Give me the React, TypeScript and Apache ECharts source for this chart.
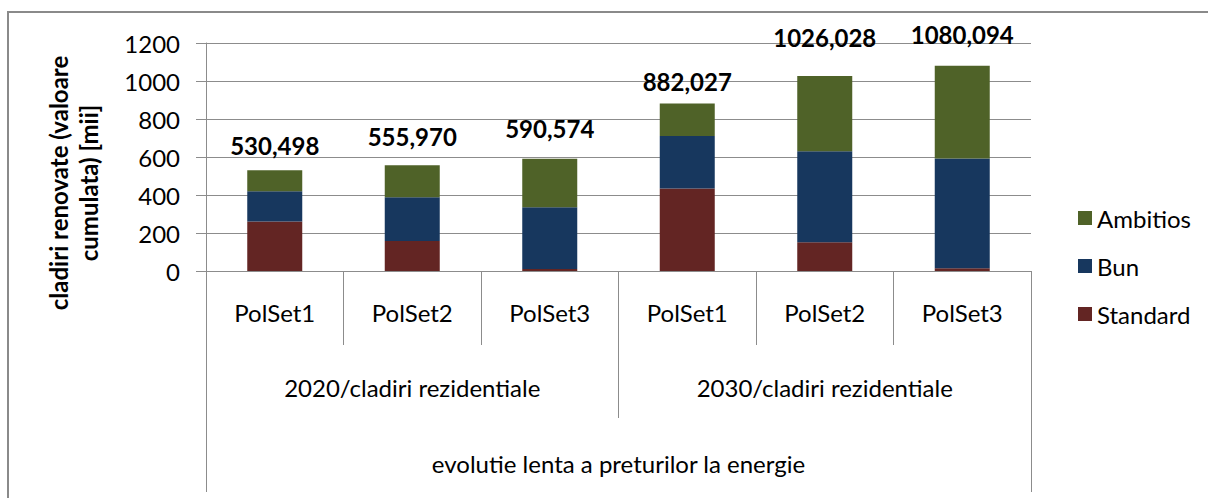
import React, { useEffect, useRef } from "react";
import * as echarts from "echarts";

const categories = ["PolSet1", "PolSet2", "PolSet3", "PolSet1", "PolSet2", "PolSet3"];
const groups = ["2020/cladiri rezidentiale", "2030/cladiri rezidentiale"];
const topGroup = ["evolutie lenta a preturilor la energie"];
const seriesNames = ["Standard", "Bun", "Ambitios"];
const standard = [260, 158, 10, 434, 151, 14];
const bun = [160, 230, 325, 277, 479, 578];
const ambitios = [110.498, 167.97, 255.574, 171.027, 396.028, 488.094];
const totals = [530.498, 555.97, 590.574, 882.027, 1026.028, 1080.094];
const yTicks = [0, 200, 400, 600, 800, 1000, 1200];
const yTitle = "cladiri renovate (valoare\ncumulata) [mii]";

const colors = ["#632523", "#17375E", "#4F6228"];
const labelDistances = [13, 17, 18, 10, 27, 19];
const FONT = "Lato";
const GRID = "#8c8c8c";

export default function App() {
  const ref = useRef<HTMLDivElement>(null);
  useEffect(() => {
    if (!ref.current) return;
    const chart = echarts.init(ref.current, null, { renderer: "svg" });
    const fmt = (v: number) => v.toFixed(3).replace(".", ",");
    const values = [standard, bun, ambitios];
    const series = seriesNames.map((name, si) => ({
      name,
      type: "bar",
      stack: "total",
      barWidth: 55,
      itemStyle: { color: colors[si] },
      data: values[si].map((v, i) =>
        si === 2
          ? {
              value: v,
              label: {
                show: true,
                position: "top",
                distance: labelDistances[i],
                formatter: () => fmt(totals[i]),
                fontFamily: FONT,
                fontSize: 24,
                fontWeight: "bold",
                color: "#000",
              },
            }
          : v
      ),
    }));
    const baseX = {
      type: "category",
      position: "bottom",
      gridIndex: 0,
      boundaryGap: true,
      axisLine: { show: true, lineStyle: { color: GRID, width: 1 } },
      splitLine: { show: false },
    };
    chart.setOption({
      animation: false,
      backgroundColor: "#fff",
      grid: { left: 206, right: 177, top: 43, bottom: 227, containLabel: false },
      legend: {
        orient: "vertical",
        left: 1073,
        top: 201,
        itemWidth: 14,
        itemHeight: 14,
        itemGap: 24,
        icon: "rect",
        data: ["Ambitios", "Bun", "Standard"],
        textStyle: { fontFamily: FONT, fontSize: 24, color: "#000", lineHeight: 24 },
      },
      xAxis: [
        {
          ...baseX,
          data: categories,
          axisTick: { show: true, length: 74, lineStyle: { color: GRID } },
          axisLabel: {
            interval: 0,
            margin: 41,
            verticalAlign: "middle",
            fontFamily: FONT,
            fontSize: 24,
            color: "#000",
          },
        },
        {
          ...baseX,
          data: groups,
          axisTick: { show: true, length: 147, lineStyle: { color: GRID } },
          axisLabel: {
            interval: 0,
            margin: 116,
            verticalAlign: "middle",
            fontFamily: FONT,
            fontSize: 24,
            color: "#000",
          },
        },
        {
          ...baseX,
          data: topGroup,
          axisTick: { show: true, length: 221, lineStyle: { color: GRID } },
          axisLabel: {
            interval: 0,
            margin: 192,
            verticalAlign: "middle",
            fontFamily: FONT,
            fontSize: 24,
            color: "#000",
          },
        },
      ],
      yAxis: {
        type: "value",
        min: yTicks[0],
        max: yTicks[yTicks.length - 1],
        interval: yTicks[1] - yTicks[0],
        axisLine: { show: true, lineStyle: { color: GRID, width: 1 } },
        axisTick: { show: true, length: 10, lineStyle: { color: GRID } },
        splitLine: { show: true, lineStyle: { color: GRID, width: 1 } },
        axisLabel: {
          margin: 26,
          fontFamily: FONT,
          fontSize: 24,
          color: "#000",
          formatter: (v: number) => String(v),
        },
      },
      graphic: [
        {
          type: "rect",
          shape: { x: 8, y: 12, width: 1400, height: 800 },
          style: { fill: "none", stroke: "#8a8a8a", lineWidth: 2 },
          silent: true,
        },
        {
          type: "text",
          x: 73,
          y: 183,
          rotation: Math.PI / 2,
          style: {
            text: yTitle,
            align: "center",
            verticalAlign: "middle",
            fontFamily: FONT,
            fontSize: 24,
            fontWeight: "bold",
            lineHeight: 30,
            fill: "#000",
          },
        },
      ],
      series,
    });
    return () => chart.dispose();
  }, []);
  return (
    <div
      ref={ref}
      style={{ position: "fixed", left: 0, top: 0, width: 1208, height: 498 }}
    />
  );
}
